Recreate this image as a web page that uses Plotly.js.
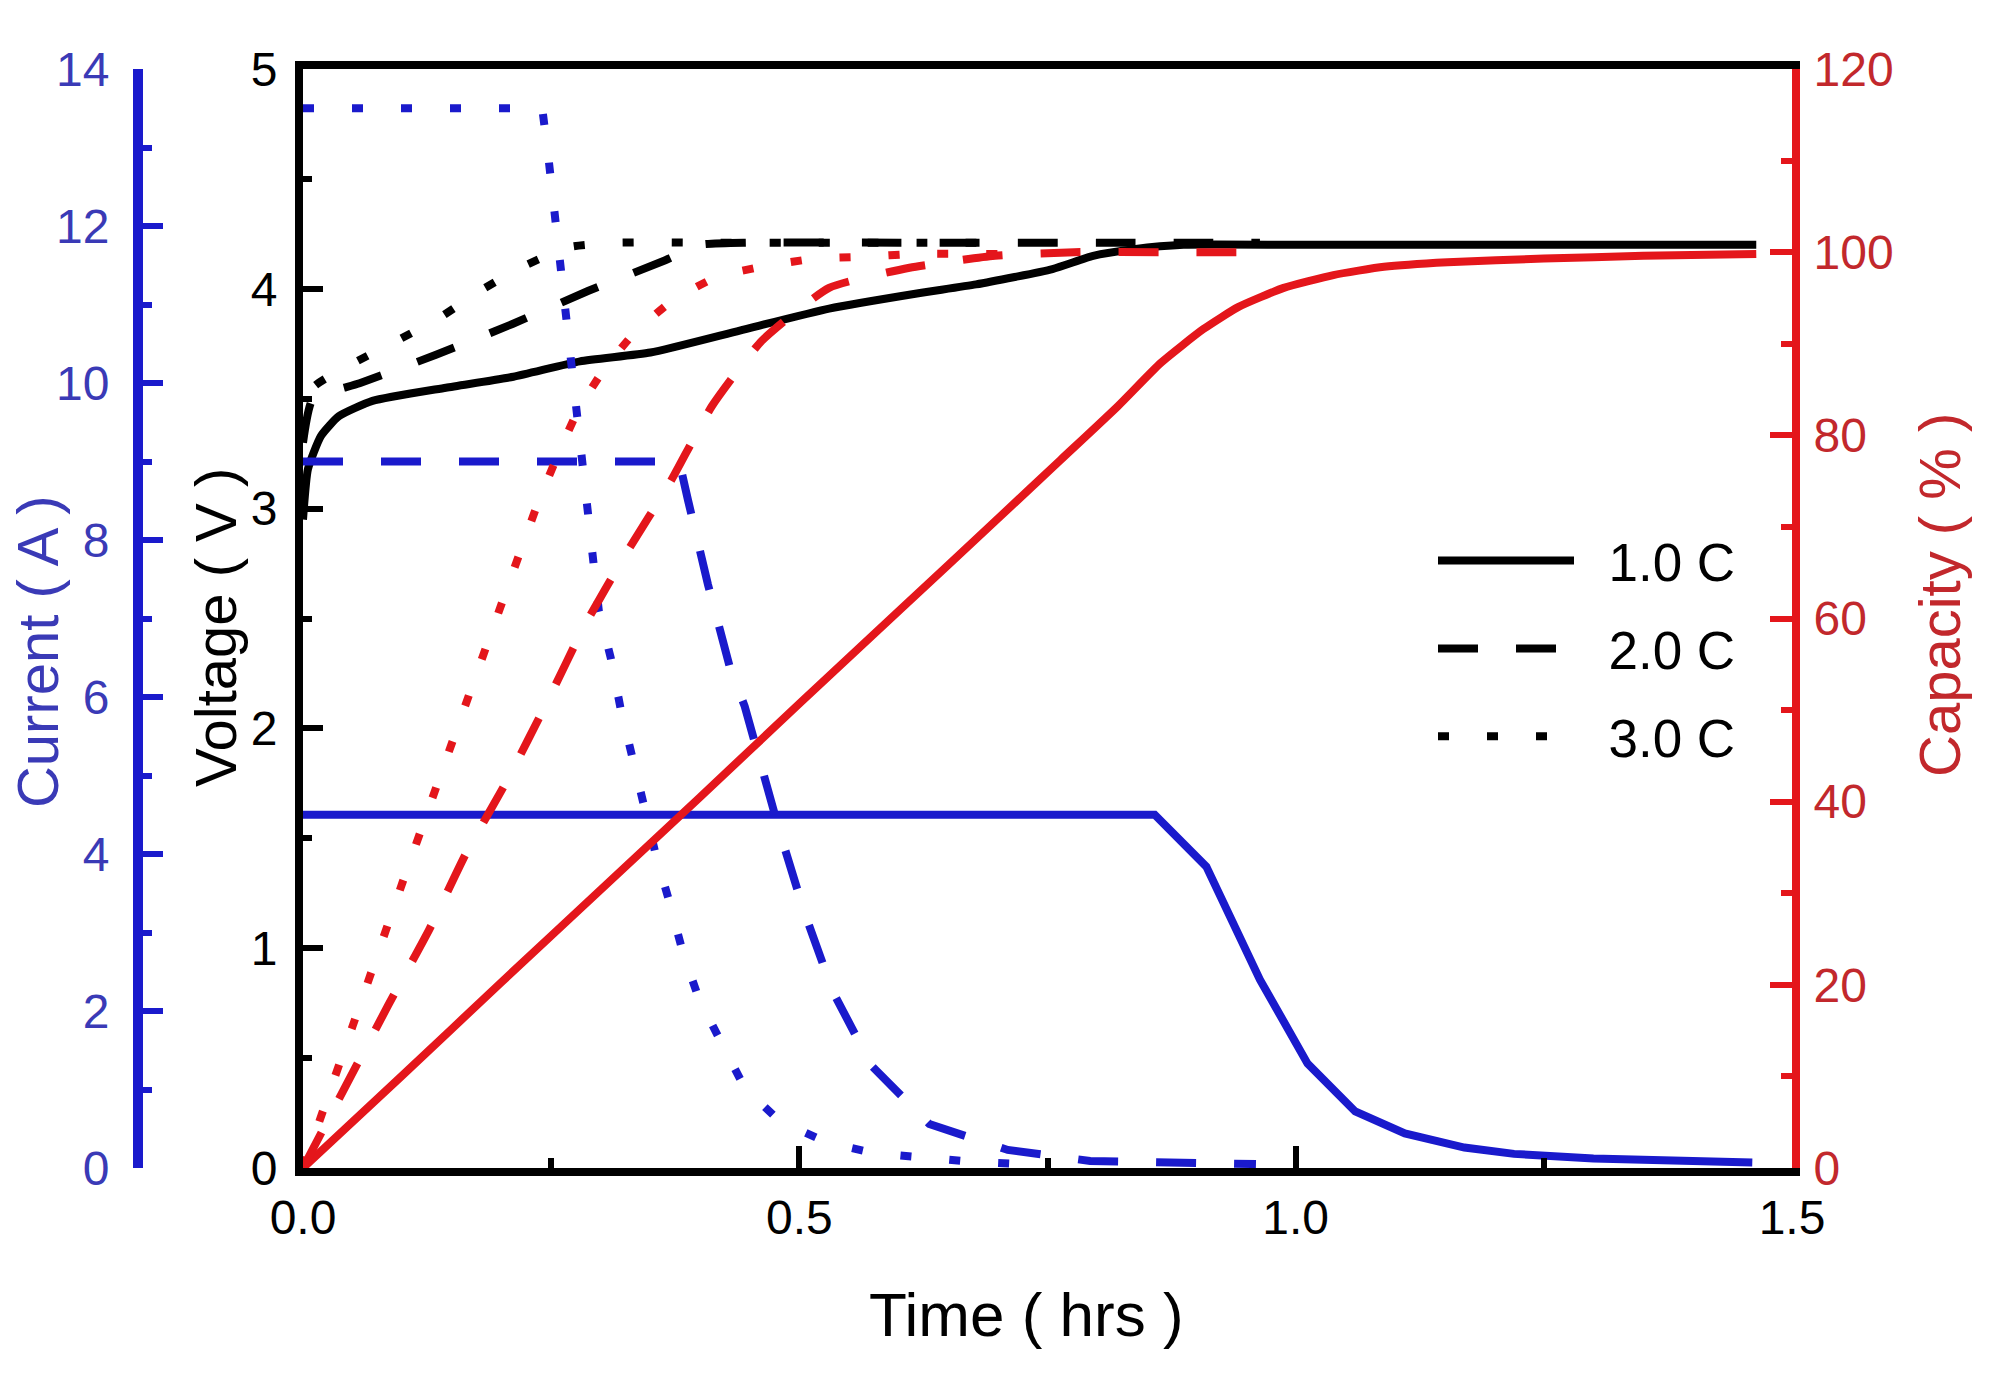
<!DOCTYPE html>
<html>
<head>
<meta charset="utf-8">
<script src="https://cdn.plot.ly/plotly-3.0.1.min.js"></script>
<style>
  html, body { margin: 0; padding: 0; background: #ffffff; }
  #chart { width: 2000px; height: 1384px; }
</style>
</head>
<body>
<div id="chart"></div>
<script>
// values (time in hrs)
var legend_names = ["1.0 C", "2.0 C", "3.0 C"];

var volt_1c_t = [0, 0.005, 0.018, 0.036, 0.07, 0.144, 0.212, 0.279, 0.35, 0.44, 0.53, 0.62, 0.678, 0.755, 0.796, 0.837, 0.887, 1.0, 1.2, 1.464];
var volt_1c_v = [2.95, 3.18, 3.33, 3.42, 3.49, 3.55, 3.60, 3.67, 3.71, 3.81, 3.91, 3.98, 4.02, 4.09, 4.15, 4.18, 4.20, 4.20, 4.20, 4.20];

var volt_2c_t = [0, 0.01, 0.057, 0.134, 0.211, 0.287, 0.365, 0.40, 0.45, 0.6, 0.8, 0.964];
var volt_2c_v = [3.3, 3.5, 3.57, 3.70, 3.84, 3.99, 4.13, 4.20, 4.21, 4.21, 4.21, 4.21];

var volt_3c_t = [0, 0.01, 0.05, 0.093, 0.138, 0.178, 0.221, 0.268, 0.318, 0.4, 0.55, 0.70];
var volt_3c_v = [3.35, 3.55, 3.66, 3.76, 3.87, 3.99, 4.10, 4.19, 4.21, 4.21, 4.21, 4.21];

var cur_1c_t = [0, 0.858, 0.91, 0.964, 1.012, 1.06, 1.11, 1.17, 1.22, 1.30, 1.46];
var cur_1c_i = [4.5, 4.5, 3.84, 2.40, 1.33, 0.72, 0.44, 0.26, 0.18, 0.12, 0.07];

var cur_2c_t = [0, 0.379, 0.388, 0.408, 0.43, 0.445, 0.48, 0.505, 0.534, 0.573, 0.631, 0.71, 0.793, 0.96];
var cur_2c_i = [9.0, 9.0, 8.5, 7.43, 6.38, 5.88, 4.29, 3.26, 2.24, 1.30, 0.56, 0.23, 0.09, 0.05];

var cur_3c_t = [0, 0.241, 0.247, 0.253, 0.258, 0.263, 0.269, 0.276, 0.28, 0.285, 0.29, 0.298, 0.31, 0.32, 0.332, 0.343, 0.356, 0.37, 0.383, 0.399, 0.421, 0.445, 0.48, 0.527, 0.575, 0.624, 0.673, 0.723];
var cur_3c_i = [13.5, 13.5, 12.9, 12.2, 11.6, 11.0, 10.3, 9.6, 9.0, 8.4, 7.8, 7.1, 6.5, 5.85, 5.22, 4.6, 3.96, 3.35, 2.73, 2.15, 1.59, 1.02, 0.6, 0.33, 0.19, 0.13, 0.08, 0.05];

var cap_1c_t = [0, 0.1, 0.2, 0.3, 0.4, 0.5, 0.6, 0.7, 0.763, 0.821, 0.864, 0.907, 0.942, 0.988, 1.038, 1.089, 1.153, 1.25, 1.35, 1.464];
var cap_1c_c = [0, 10.1, 20.3, 30.4, 40.5, 50.7, 60.8, 70.9, 77.3, 83.2, 87.9, 91.6, 94.0, 96.1, 97.5, 98.4, 98.9, 99.3, 99.6, 99.8];

var cap_2c_t = [0, 0.036, 0.086, 0.127, 0.164, 0.206, 0.246, 0.284, 0.325, 0.37, 0.412, 0.462, 0.53, 0.611, 0.697, 0.777, 0.87, 0.964];
var cap_2c_c = [0, 7.5, 17.8, 26, 34.3, 42.4, 50.9, 59.3, 67, 74.9, 83.2, 90.3, 96.1, 98.3, 99.6, 100, 100, 100];

var cap_3c_t = [0, 0.05, 0.1, 0.151, 0.203, 0.237, 0.257, 0.277, 0.302, 0.334, 0.372, 0.417, 0.467, 0.516, 0.566, 0.615, 0.70];
var cap_3c_c = [0, 15.5, 31.1, 46.7, 62.5, 72.7, 77.9, 82.7, 87, 91.2, 94.7, 97.3, 98.5, 99.3, 99.5, 99.8, 99.8];

var x_tickvals = [0, 0.5, 1.0, 1.5];
var x_ticktext = ["0.0", "0.5", "1.0", "1.5"];

var BLACK = "#000000";
var BLUE = "#1a1acc";
var BLUE_TXT = "#3a3ab6";
var RED = "#e4161b";
var RED_TXT = "#c2282c";
var FONT = "Liberation Sans, Arial, sans-serif";
var NB = "\u00a0";

var dashes = ["solid", "40px,38px", "11px,38px"];

function line_trace(x, y, axis, color, k, legend, smooth) {
    return {
        type: "scatter",
        mode: "lines",
        x: x,
        y: y,
        yaxis: axis,
        name: NB + NB + legend_names[k],
        showlegend: legend,
        legendgroup: "g" + k,
        line: {
            color: color,
            width: 8,
            dash: dashes[k],
            shape: smooth ? "spline" : "linear",
            smoothing: 0.5,
        },
        hoverinfo: "skip",
    };
}

var data = [
    line_trace(volt_1c_t, volt_1c_v, "y", BLACK, 0, true, true),
    line_trace(volt_2c_t, volt_2c_v, "y", BLACK, 1, true, true),
    line_trace(volt_3c_t, volt_3c_v, "y", BLACK, 2, true, true),
    line_trace(cap_1c_t, cap_1c_c, "y3", RED, 0, false, true),
    line_trace(cap_2c_t, cap_2c_c, "y3", RED, 1, false, true),
    line_trace(cap_3c_t, cap_3c_c, "y3", RED, 2, false, true),
    line_trace(cur_1c_t, cur_1c_i, "y2", BLUE, 0, false, false),
    line_trace(cur_2c_t, cur_2c_i, "y2", BLUE, 1, false, false),
    line_trace(cur_3c_t, cur_3c_i, "y2", BLUE, 2, false, false),
];

// axis titles sit a little off-centre in the original, so they are placed as paper annotations
function title_note(text, x, y, angle, size, color) {
    return {
        text: text,
        xref: "paper",
        yref: "paper",
        x: x,
        y: y,
        xanchor: "center",
        yanchor: "middle",
        textangle: angle,
        showarrow: false,
        font: { family: FONT, size: size, color: color },
    };
}

var layout = {
    width: 2000,
    height: 1384,
    margin: { l: 0, r: 0, t: 69, b: 216 },
    paper_bgcolor: "#ffffff",
    plot_bgcolor: "#ffffff",
    font: { family: FONT, size: 48, color: BLACK },
    showlegend: true,
    legend: {
        x: 0.7165,
        xanchor: "left",
        y: 0.59,
        yanchor: "top",
        bgcolor: "rgba(0,0,0,0)",
        font: { family: FONT, size: 53, color: BLACK },
        itemwidth: 136,
        traceorder: "grouped",
        tracegroupgap: 16,
    },
    annotations: [
        title_note("Time ( hrs )", 0.513, -0.133, 0, 62, BLACK),
        title_note("Voltage ( V )", 0.108, 0.4914, -90, 58, BLACK),
        title_note("Current ( A )", 0.0185, 0.4695, -90, 58, BLUE_TXT),
        title_note("Capacity ( % )", 0.97, 0.5214, -90, 58, RED_TXT),
    ],
    xaxis: {
        domain: [0.1515, 0.896],
        range: [0, 1.5],
        tickvals: x_tickvals,
        ticktext: x_ticktext,
        ticks: "inside",
        ticklen: 22,
        tickwidth: 6,
        tickcolor: BLACK,
        minor: { dtick: 0.25, ticks: "inside", ticklen: 10, tickwidth: 6, tickcolor: BLACK },
        showline: true,
        linewidth: 8,
        linecolor: BLACK,
        mirror: true,
        showgrid: false,
        zeroline: false,
        tickfont: { family: FONT, size: 48, color: BLACK },
    },
    yaxis: {
        range: [0, 5],
        dtick: 1,
        ticks: "inside",
        ticklen: 20,
        tickwidth: 6,
        tickcolor: BLACK,
        minor: { dtick: 0.5, ticks: "inside", ticklen: 9, tickwidth: 6, tickcolor: BLACK },
        showline: true,
        linewidth: 8,
        linecolor: BLACK,
        showgrid: false,
        zeroline: false,
        ticklabelstandoff: 8,
        tickfont: { family: FONT, size: 48, color: BLACK },
    },
    yaxis2: {
        overlaying: "y",
        side: "left",
        anchor: "free",
        position: 0.069,
        range: [0, 14],
        dtick: 2,
        ticks: "inside",
        ticklen: 20,
        tickwidth: 6,
        tickcolor: BLUE,
        minor: { dtick: 1, ticks: "inside", ticklen: 9, tickwidth: 6, tickcolor: BLUE },
        showline: true,
        linewidth: 10,
        linecolor: BLUE,
        showgrid: false,
        zeroline: false,
        ticklabelstandoff: 14,
        tickfont: { family: FONT, size: 48, color: BLUE_TXT },
    },
    yaxis3: {
        overlaying: "y",
        side: "right",
        anchor: "x",
        range: [0, 120],
        dtick: 20,
        ticks: "inside",
        ticklen: 22,
        tickwidth: 6,
        tickcolor: RED,
        minor: { dtick: 10, ticks: "inside", ticklen: 11, tickwidth: 6, tickcolor: RED },
        showline: true,
        linewidth: 8,
        linecolor: RED,
        showgrid: false,
        zeroline: false,
        ticklabelstandoff: 4,
        tickfont: { family: FONT, size: 48, color: RED_TXT },
    },
};

Plotly.newPlot("chart", data, layout, { staticPlot: true });
</script>
</body>
</html>
